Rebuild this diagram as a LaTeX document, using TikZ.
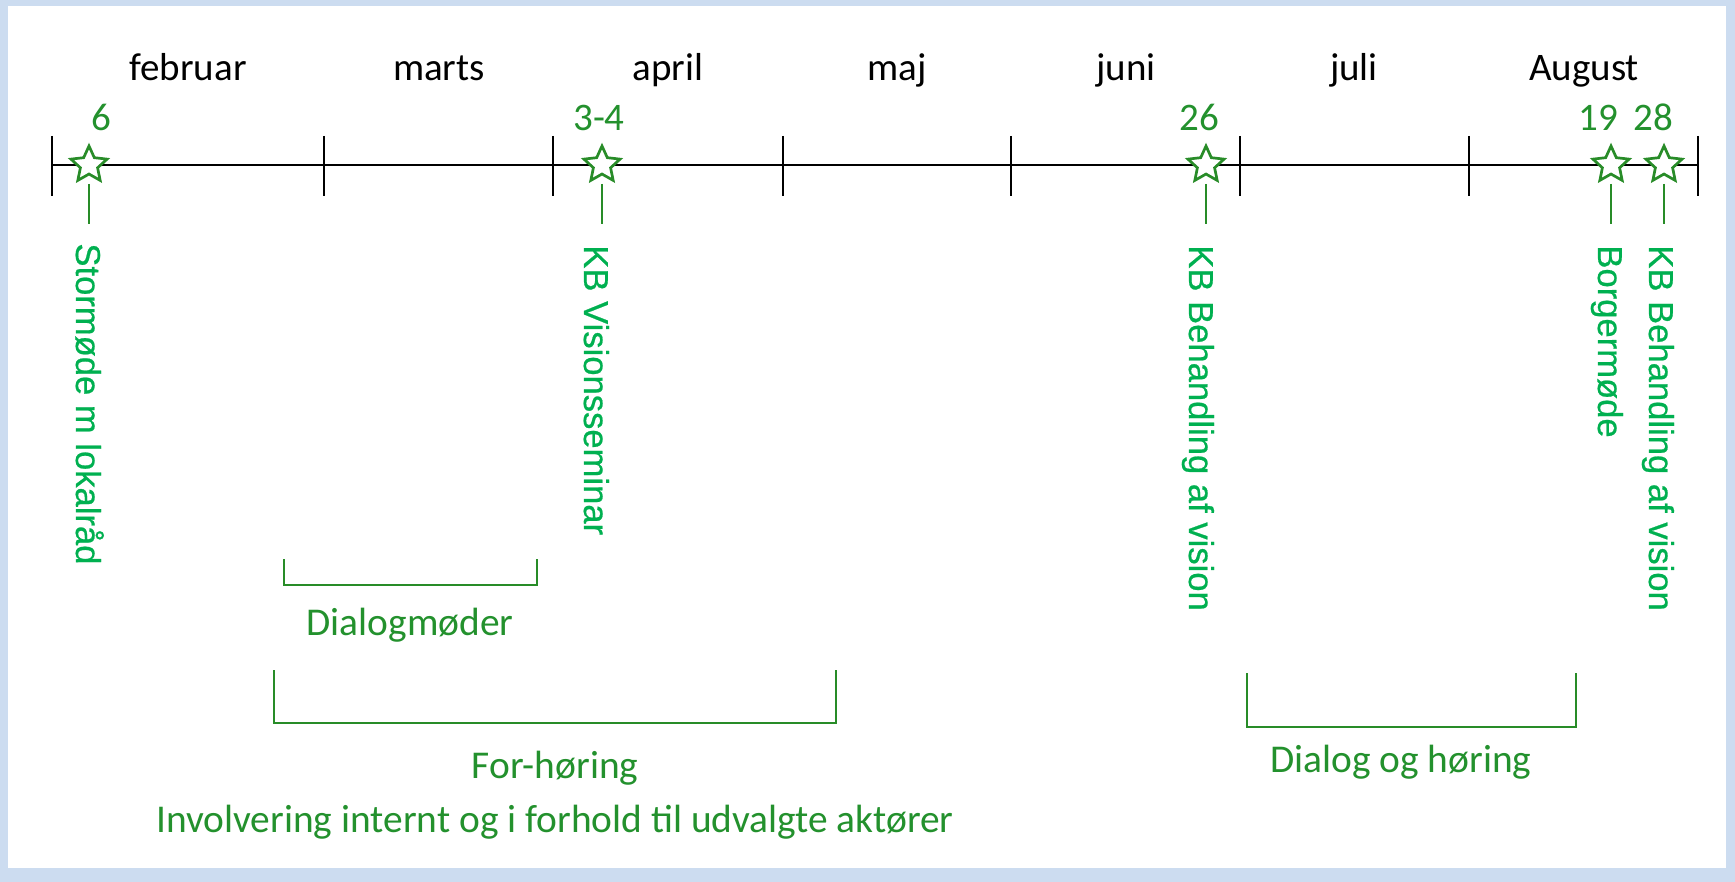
\documentclass[tikz,border=0pt]{standalone}
\usepackage{fontspec}
\setmainfont{Carlito}
\newfontfamily\vertfont[FakeBold=0.6]{Liberation Sans}
\usetikzlibrary{shapes.geometric}
\definecolor{linegreen}{RGB}{40,140,40}
\definecolor{textgreen}{RGB}{35,145,45}
\definecolor{vertgreen}{RGB}{0,176,80}
\definecolor{frameblue}{RGB}{204,220,240}

\begin{document}
\begin{tikzpicture}[
        x=0.5pt, y=-0.5pt,
        every node/.style = {inner sep=0pt},
        monthlbl/.style = {anchor=base, font=\fontsize{19.5}{23}\selectfont, text=black},
        datelbl/.style = {anchor=base, font=\fontsize{19.5}{23}\selectfont, text=textgreen},
        evstar/.style = {star, star points=5, star point ratio=2.1, minimum size=19pt,
                         draw=linegreen, line width=1.35pt, fill=white},
        evtext/.style = {rotate=-90, anchor=base west, text=vertgreen,
                         font=\vertfont\fontsize{17.3}{20}\selectfont},
        spanline/.style = {draw=linegreen, line width=1pt},
        spantext/.style = {anchor=base, font=\fontsize{19.7}{23}\selectfont, text=textgreen},
      ]

      \fill[frameblue] (0,0) rectangle (1735,882);
      \fill[white] (8,6) rectangle (1726,868);
      \useasboundingbox (0,0) rectangle (1735,882);

      \foreach \x [count=\i] in {52,324,553,783,1011,1240,1469,1698}
        \coordinate (t\i) at (\x,165);
      \draw[line width=1pt] (t1) -- (t8);
      \foreach \i in {1,...,8}
        \draw[line width=1pt] (t\i) ++(0,-29) -- ++(0,60);

      \foreach \x/\m in {188/februar,439/marts,668/april,897/maj,1126/juni,1354/juli,1584/August}
        \node[monthlbl] (\m) at (\x,81) {\m};

      \foreach \n/\x/\dx/\d in {a/89/101/6, b/602/599/3-4, c/1206/1199/26, d/1611/1598/19, e/1664/1653/28} {
        \node[evstar] (s\n) at (\x,165) {};
        \node[datelbl] (d\n) at (\dx,131) {\d};
        \draw[spanline] (s\n) ++(0,19) -- ++(0,40);
      }

      \node[evtext] (va) at (76,243) {Stormøde m lokalråd};
      \node[evtext] (vb) at (584,245) {KB Visionsseminar};
      \node[evtext] (vc) at (1189,245) {KB Behandling af vision};
      \node[evtext] (vd) at (1598,245) {Borgermøde};
      \node[evtext] (ve) at (1649,245) {KB Behandling af vision};

      \coordinate (dlgL) at (284,559);
      \coordinate (dlgR) at (537,559);
      \draw[spanline] (dlgL) -- ++(0,26) -| (dlgR);
      \node[spantext] (dlg) at (410,635) {Dialogmøder};

      \coordinate (forL) at (274,670);
      \coordinate (forR) at (836,670);
      \draw[spanline] (forL) -- ++(0,53) -| (forR);
      \node[spantext] (for) at (555,778) {For-høring};
      \node[spantext] (inv) at (555,832) {Involvering internt og i forhold til udvalgte aktører};

      \coordinate (hoerL) at (1247,673);
      \coordinate (hoerR) at (1576,673);
      \draw[spanline] (hoerL) -- ++(0,54) -| (hoerR);
      \node[spantext] (hoer) at (1401,772) {Dialog og høring};

    \end{tikzpicture}
\end{document}
